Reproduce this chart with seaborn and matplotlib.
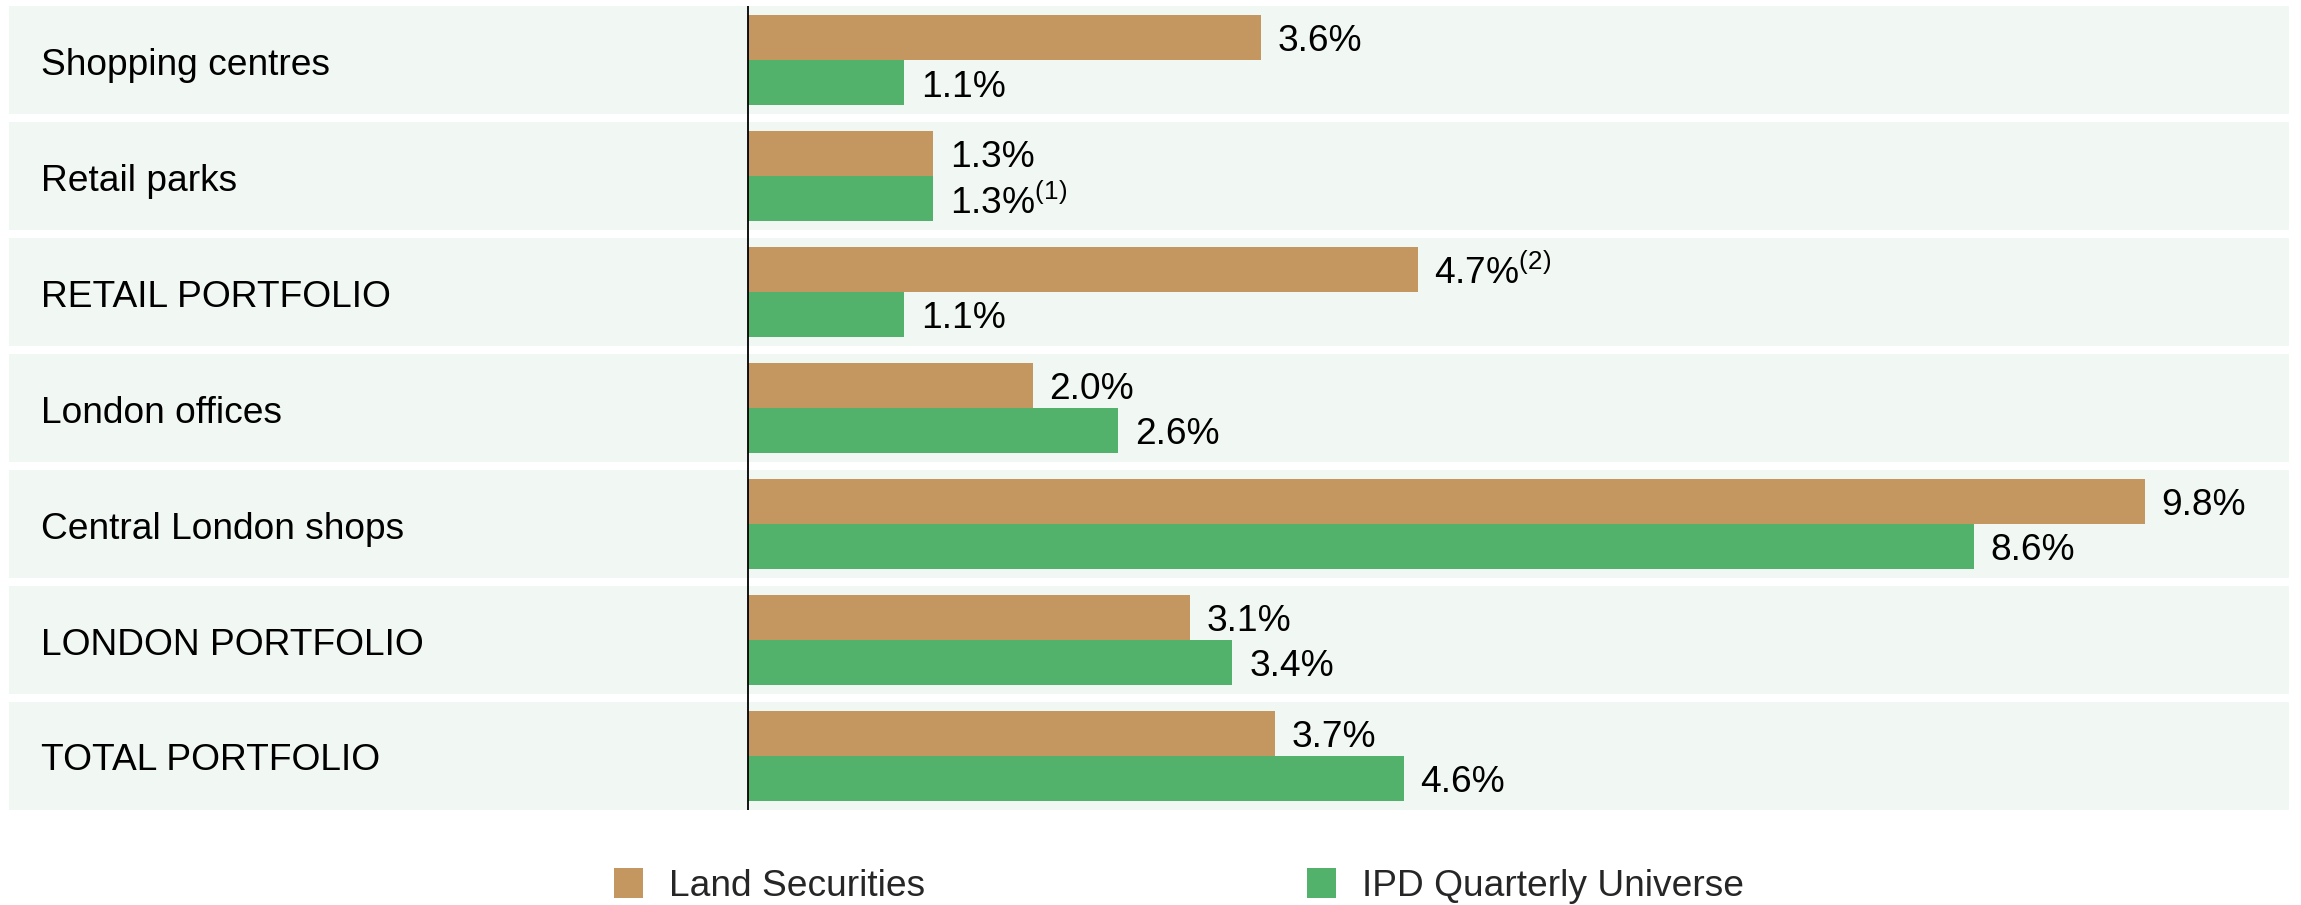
"""
plot.py -- like-for-like rental value growth, Land Securities vs IPD Quarterly Universe.
"""

import matplotlib
matplotlib.use("Agg")
import matplotlib.pyplot as plt
import pandas as pd
import seaborn as sns

# -- Data ----------------------------------------------------------------------

categories = [
    "Shopping centres",
    "Retail parks",
    "RETAIL PORTFOLIO",
    "London offices",
    "Central London shops",
    "LONDON PORTFOLIO",
    "TOTAL PORTFOLIO",
]
series = ["Land Securities", "IPD Quarterly Universe"]
land_securities = [3.6, 1.3, 4.7, 2.0, 9.8, 3.1, 3.7]
ipd_universe = [1.1, 1.3, 1.1, 2.6, 8.6, 3.4, 4.6]
ls_notes = ["", "", "(2)", "", "", "", ""]
ipd_notes = ["", "(1)", "", "", "", "", ""]

TAN = "#C49760"
GREEN = "#52B26B"
BAND = "#F1F7F3"
FONT_SIZE = 26.7

# -- Style ---------------------------------------------------------------------

sns.set_theme(style="white")
plt.rcParams["font.family"] = ["Liberation Sans", "DejaVu Sans"]
plt.rcParams["mathtext.fontset"] = "custom"
plt.rcParams["mathtext.rm"] = "Liberation Sans"
plt.rcParams["mathtext.it"] = "Liberation Sans"
plt.rcParams["mathtext.bf"] = "Liberation Sans:bold"

df = pd.DataFrame({
    "category": categories * 2,
    "series": [series[0]] * len(categories) + [series[1]] * len(categories),
    "value": land_securities + ipd_universe,
})

fig = plt.figure(figsize=(23.01, 9.05), dpi=100)
W, H = 2301, 905
# axes spans the light bands: x 9..2289 px, y 6..810 px
ax = fig.add_axes([9 / W, 1 - 810 / H, (2289 - 9) / W, (810 - 6) / H])

sns.barplot(
    data=df, y="category", x="value", hue="series", orient="h",
    order=categories, hue_order=series, palette=[TAN, GREEN],
    width=0.78, saturation=1, linewidth=0, ax=ax, zorder=2,
)

half = 0.468
for i in range(len(categories)):
    ax.axhspan(i - half, i + half, color=BAND, zorder=0, lw=0)

ax.set_xlim(-5.18, 10.81)
ax.set_ylim(len(categories) - 1 + half, -half)
ax.axvline(0, color="black", lw=1.3, zorder=3)

# value labels with footnote markers
for container, vals, notes in zip(ax.containers, [land_securities, ipd_universe], [ls_notes, ipd_notes]):
    labels = [f"{v:.1f}%" + (f"$^{{{n}}}$" if n else "") for v, n in zip(vals, notes)]
    anns = ax.bar_label(container, labels=labels, padding=12, fontsize=FONT_SIZE, color="black")
    for a in anns:
        a.xyann = (12, -3)

# category names inside the bands
for i, name in enumerate(categories):
    ax.text(0.014, i + 0.045, name, transform=ax.get_yaxis_transform(),
            ha="left", va="center", fontsize=FONT_SIZE, color="black")

ax.set_xlabel("")
ax.set_ylabel("")
ax.set_xticks([])
ax.set_yticks([])
for spine in ax.spines.values():
    spine.set_visible(False)
ax.set_facecolor("none")

handles, labels = ax.get_legend_handles_labels()
ax.get_legend().remove()
fig.legend(
    handles, labels, loc="center", bbox_to_anchor=(0.5125, 0.021),
    ncol=2, frameon=False, fontsize=FONT_SIZE,
    handlelength=0.78, handleheight=0.87, handletextpad=0.7, columnspacing=10.3,
)

fig.savefig("out.png", dpi=100, facecolor="white")
